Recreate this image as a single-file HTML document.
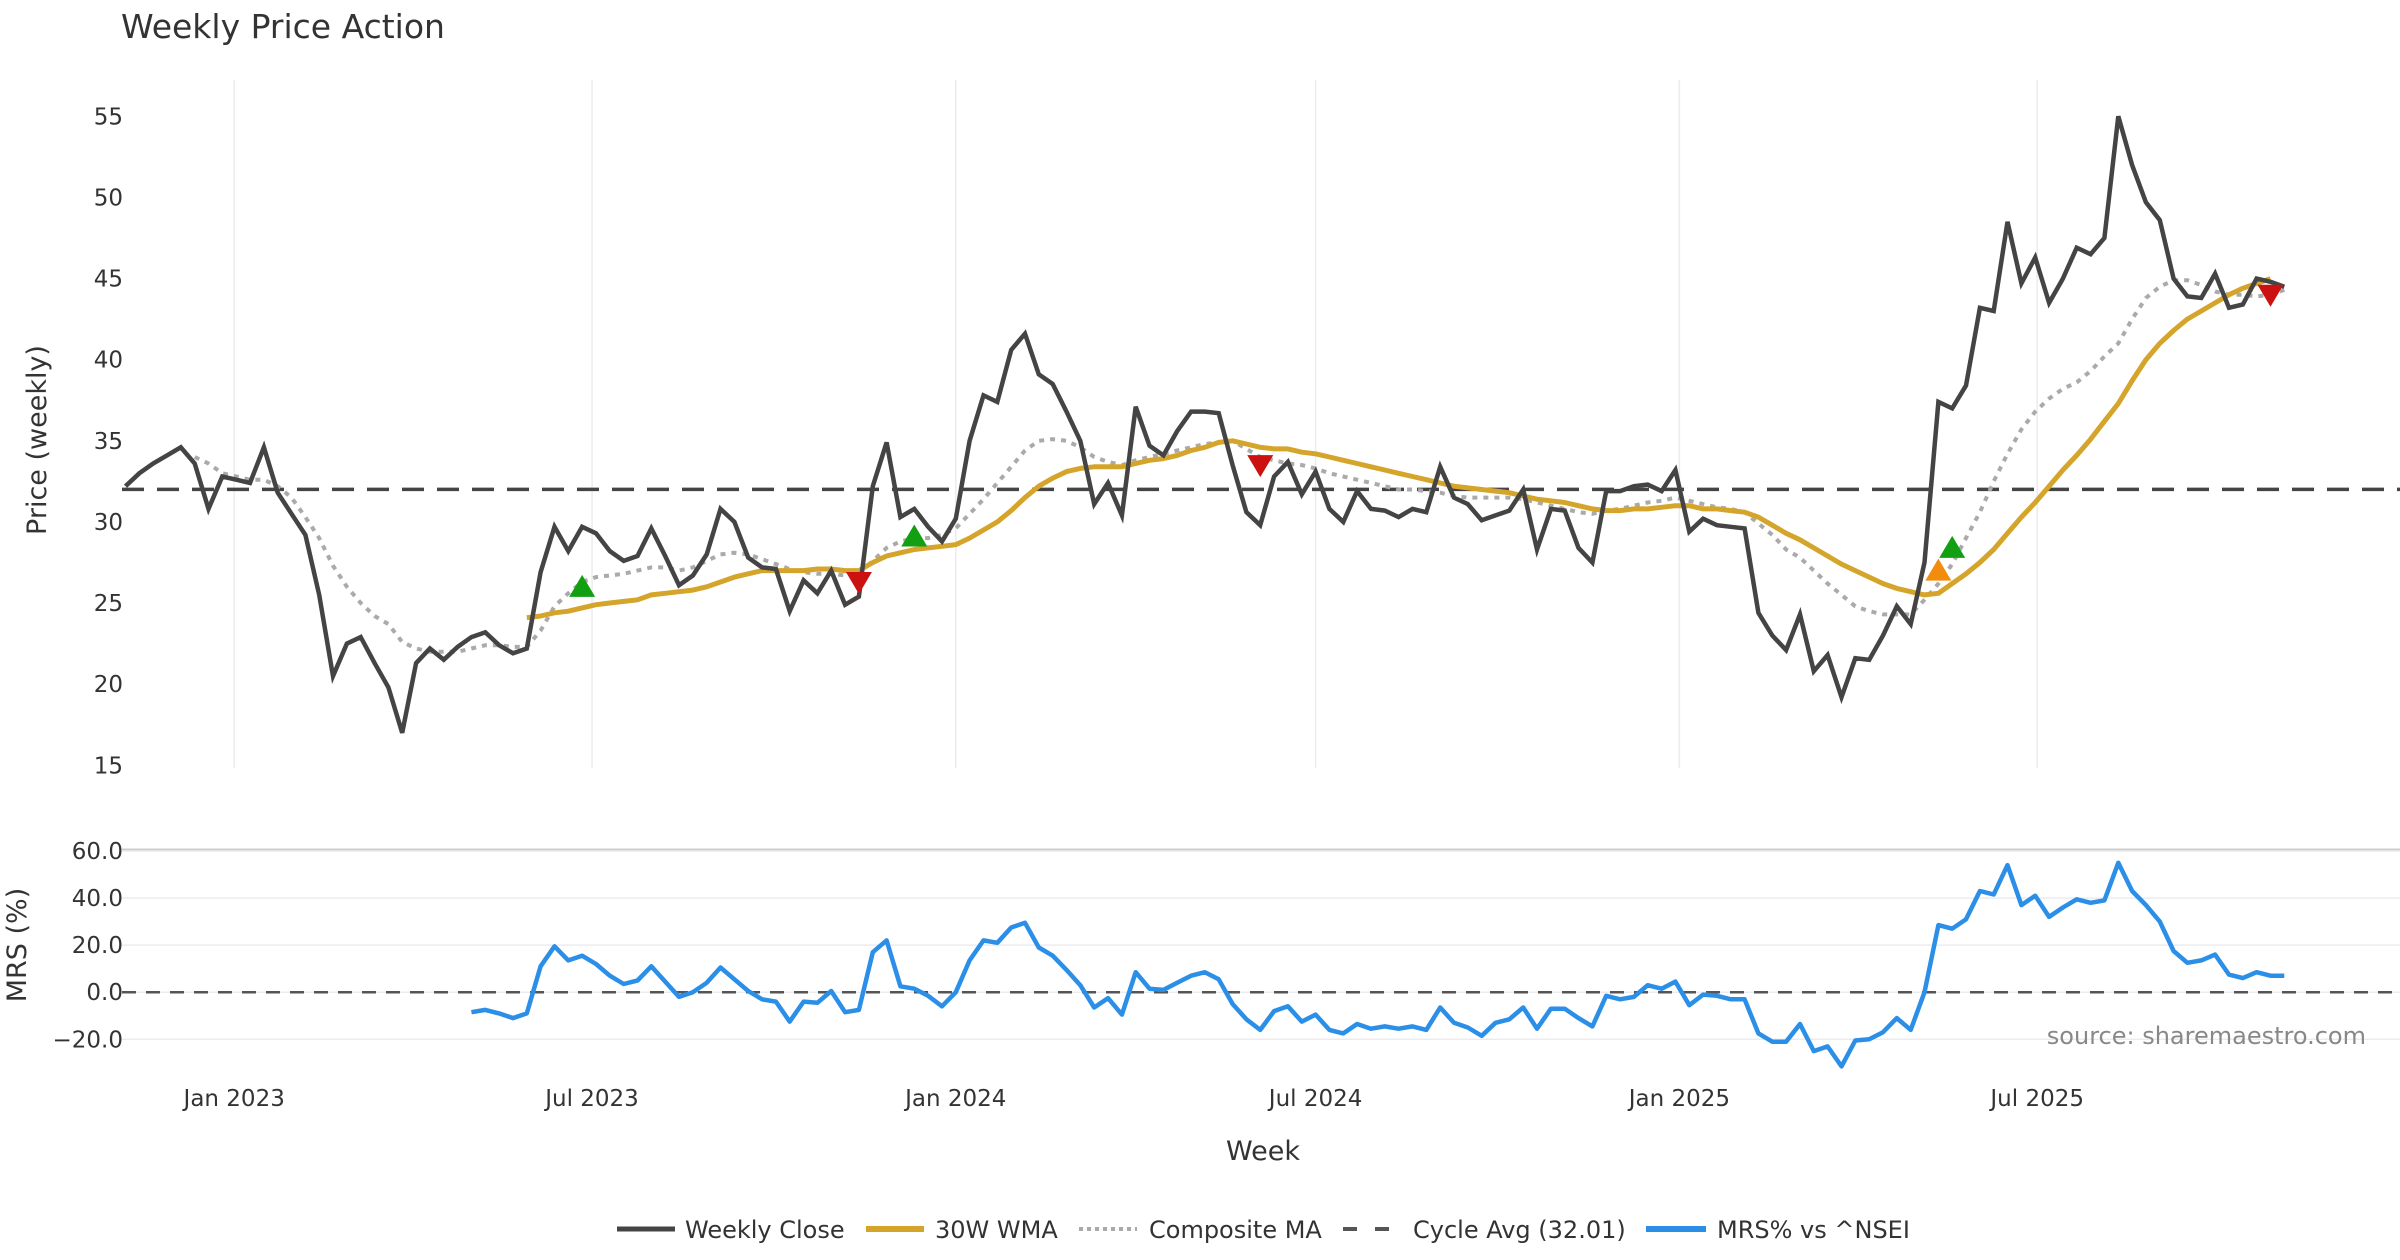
<!DOCTYPE html>
<html><head><meta charset="utf-8">
<style>
html,body{margin:0;padding:0;background:#fff;}
svg{display:block;font-family:"DejaVu Sans","Liberation Sans",sans-serif;}
</style></head>
<body>
<svg id="chart" width="2400" height="1260" viewBox="0 0 2400 1260" xmlns="http://www.w3.org/2000/svg">
<text x="121" y="38" font-size="33" fill="#333">Weekly Price Action</text>
<g id="grid"></g>
<g id="series"></g>
<g id="axes"></g>
<text x="46" y="440" font-size="27" fill="#333" text-anchor="middle" transform="rotate(-90 46 440)">Price (weekly)</text>
<text x="26" y="945" font-size="27" fill="#333" text-anchor="middle" transform="rotate(-90 26 945)">MRS (%)</text>
<text x="1263" y="1160" font-size="27" fill="#333" text-anchor="middle">Week</text>
<text x="2366" y="1044" font-size="24" fill="#888" text-anchor="end">source: sharemaestro.com</text>
<g id="legend">
  <g><line x1="617" y1="1229" x2="675" y2="1229" stroke="#444" stroke-width="5"/><text x="685" y="1238" font-size="24" fill="#333">Weekly Close</text></g>
  <g><line x1="866" y1="1229" x2="924" y2="1229" stroke="#D4A52A" stroke-width="6"/><text x="935" y="1238" font-size="24" fill="#333">30W WMA</text></g>
  <g><line x1="1079" y1="1229" x2="1137" y2="1229" stroke="#aaa" stroke-width="4" stroke-dasharray="4,4"/><text x="1149" y="1238" font-size="24" fill="#333">Composite MA</text></g>
  <g><line x1="1343" y1="1229" x2="1398" y2="1229" stroke="#555" stroke-width="4" stroke-dasharray="14,18"/><text x="1413" y="1238" font-size="24" fill="#333">Cycle Avg (32.01)</text></g>
  <g><line x1="1646" y1="1229" x2="1706" y2="1229" stroke="#2B8FE8" stroke-width="6"/><text x="1717" y="1238" font-size="24" fill="#333">MRS% vs ^NSEI</text></g>
</g>
</svg>
<script>
const closeVals=[32.2,33.0,33.6,34.1,34.6,33.6,30.8,32.8,32.6,32.4,34.6,31.8,30.5,29.2,25.5,20.5,22.5,22.9,21.3,19.8,17.0,21.3,22.2,21.5,22.3,22.9,23.2,22.4,21.9,22.2,26.9,29.7,28.2,29.7,29.3,28.2,27.6,27.9,29.6,27.9,26.1,26.7,28.0,30.8,30.0,27.8,27.2,27.1,24.5,26.4,25.6,27.0,24.9,25.4,32.2,34.9,30.3,30.8,29.7,28.8,30.2,35.0,37.8,37.4,40.6,41.6,39.1,38.5,36.8,35.0,31.1,32.4,30.4,37.1,34.7,34.1,35.6,36.8,36.8,36.7,33.5,30.6,29.8,32.8,33.7,31.7,33.1,30.8,30.0,31.9,30.8,30.7,30.3,30.8,30.6,33.4,31.5,31.1,30.1,30.4,30.7,32.0,28.3,30.8,30.7,28.4,27.5,31.9,31.9,32.2,32.3,31.9,33.2,29.4,30.2,29.8,29.7,29.6,24.4,23.0,22.1,24.3,20.8,21.8,19.2,21.6,21.5,23.0,24.8,23.7,27.5,37.4,37.0,38.4,43.2,43.0,48.5,44.7,46.3,43.5,45.0,46.9,46.5,47.5,55.0,52.0,49.7,48.6,45.0,43.9,43.8,45.3,43.2,43.4,45.0,44.8,44.5];
const wmaVals=[null,null,null,null,null,null,null,null,null,null,null,null,null,null,null,null,null,null,null,null,null,null,null,null,null,null,null,null,null,24.1,24.2,24.4,24.5,24.7,24.9,25.0,25.1,25.2,25.5,25.6,25.7,25.8,26.0,26.3,26.6,26.8,27.0,27.0,27.0,27.0,27.1,27.1,27.0,27.0,27.5,27.9,28.1,28.3,28.4,28.5,28.6,29.0,29.5,30.0,30.7,31.5,32.2,32.7,33.1,33.3,33.4,33.4,33.4,33.6,33.8,33.9,34.1,34.4,34.6,34.9,35.0,34.8,34.6,34.5,34.5,34.3,34.2,34.0,33.8,33.6,33.4,33.2,33.0,32.8,32.6,32.4,32.2,32.1,32.0,31.9,31.8,31.6,31.4,31.3,31.2,31.0,30.8,30.7,30.7,30.8,30.8,30.9,31.0,31.0,30.8,30.8,30.7,30.6,30.3,29.8,29.3,28.9,28.4,27.9,27.4,27.0,26.6,26.2,25.9,25.7,25.5,25.6,26.2,26.8,27.5,28.3,29.3,30.3,31.2,32.2,33.2,34.1,35.1,36.2,37.3,38.7,40.0,41.0,41.8,42.5,43.0,43.5,44.0,44.4,44.7,45.0];
const compVals=[null,null,null,null,null,34.0,33.6,33.0,32.8,32.6,32.6,32.2,31.5,30.3,29.0,27.3,26.0,25.0,24.2,23.7,22.6,22.2,22.0,22.0,22.0,22.2,22.4,22.4,22.3,22.3,23.3,24.8,25.6,26.3,26.6,26.7,26.8,27.0,27.2,27.2,27.0,27.2,27.6,28.0,28.1,28.0,27.7,27.4,27.1,26.9,26.8,26.8,26.7,26.8,27.6,28.4,28.8,29.0,29.0,29.2,29.6,30.5,31.4,32.4,33.4,34.4,35.0,35.1,35.0,34.6,34.0,33.7,33.5,33.8,34.0,34.2,34.4,34.6,34.8,34.9,35.0,34.5,34.0,33.8,33.6,33.5,33.3,33.0,32.8,32.6,32.4,32.2,32.0,32.0,31.9,31.8,31.6,31.5,31.5,31.5,31.5,31.4,31.2,31.0,30.8,30.6,30.5,30.7,30.8,31.0,31.2,31.3,31.5,31.3,31.1,30.9,30.8,30.6,29.9,29.2,28.3,27.8,27.0,26.2,25.5,24.8,24.5,24.3,24.3,24.3,25.2,26.2,27.4,29.0,30.6,32.5,34.2,35.7,36.8,37.6,38.2,38.6,39.3,40.2,41.0,42.5,43.8,44.5,44.9,44.9,44.6,44.2,44.0,44.0,43.9,44.0,44.3];
const mrsVals=[null,null,null,null,null,null,null,null,null,null,null,null,null,null,null,null,null,null,null,null,null,null,null,null,null,-8.5,-7.5,-9,-11,-9,11,19.5,13.5,15.5,12,7,3.5,5,11,4.5,-2,0,4,10.5,5.5,0.5,-3,-4,-12.5,-4,-4.5,0.5,-8.5,-7.5,17,22,2.5,1.5,-1.5,-6,0,13.5,22,21,27.5,29.5,19,15.5,9.5,3,-6.5,-2.5,-9.5,8.5,1.5,1,4,7,8.5,5.5,-5,-11.5,-16,-8,-6,-12.5,-9.5,-16,-17.5,-13.5,-15.5,-14.5,-15.5,-14.5,-16,-6.5,-13,-15,-18.5,-13,-11.5,-6.5,-15.5,-7,-7,-11,-14.5,-1.5,-3,-2,3,1.5,4.5,-5.5,-1,-1.5,-3,-3,-17.5,-21,-21,-13.5,-25,-23,-31.5,-20.5,-20,-17,-11,-16,0,28.5,27,31,43,41.5,54,37,41,32,36,39.5,38,39,55,43,37,30,17.5,12.5,13.5,16,7.5,6,8.5,7,7];
const buyIdx=[33,57,132];
const buyPrice=[26.0,29.1,28.4];
const earlyIdx=[131];
const earlyPrice=[27.0];
const sellIdx=[53,82,155];
const sellPrice=[26.3,33.5,44.0];
const cycleAvg=32.01;
const priceTicks=[15,20,25,30,35,40,45,50,55];
const mrsTicks=[-20,0,20,40,60];
const mrsTickLabels=["−20.0","0.0","20.0","40.0","60.0"];
const dateTickLabels=["Jan 2023","Jul 2023","Jan 2024","Jul 2024","Jan 2025","Jul 2025"];
const dateTicks=["2023-01-01","2023-07-01","2024-01-01","2024-07-01","2025-01-01","2025-07-01"];
const startDate="2022-11-07";

const NS="http://www.w3.org/2000/svg";
const DAY=86400000;
const T0=Date.parse("2023-01-01"), T1=Date.parse("2025-07-01");
function xDate(ms){return 234.2+(ms-T0)/(T1-T0)*(2037.2-234.2);}
function xIdx(i){return xDate(Date.parse(startDate)+i*7*DAY);}
function yP(p){return 116.3+(55-p)*(765.3-116.3)/40;}
function yM(m){return 851+(60-m)*(1039.3-851)/80;}
function mk(tag,attrs,parent){const e=document.createElementNS(NS,tag);for(const k in attrs)e.setAttribute(k,attrs[k]);parent.appendChild(e);return e;}
const gridG=document.getElementById('grid'),serG=document.getElementById('series'),axesG=document.getElementById('axes');

dateTicks.forEach((d,k)=>{
  const x=xDate(Date.parse(d));
  const g=mk('line',{x1:x,x2:x,y1:80,y2:768,stroke:'#ececf0','stroke-width':1.5},gridG);
  
  
  const t=mk('text',{x:x,y:1106,'font-size':23,fill:'#333','text-anchor':'middle'},axesG);
  t.textContent=dateTickLabels[k];
  
  
});
priceTicks.forEach(p=>{
  const t=mk('text',{x:123,y:yP(p)+8,'font-size':23,fill:'#333','text-anchor':'end'},axesG);
  t.textContent=p;
  
  
});
const panelTop=mk('line',{x1:122,x2:2400,y1:849.5,y2:849.5,stroke:'#ccc','stroke-width':2},gridG);


mrsTicks.forEach((m,k)=>{
  const l=mk('line',{x1:122,x2:2400,y1:yM(m),y2:yM(m),stroke:'#ececf0','stroke-width':1.5},gridG);
  
  
  const t=mk('text',{x:123,y:yM(m)+8,'font-size':23,fill:'#333','text-anchor':'end'},axesG);
  t.textContent=mrsTickLabels[k];
  
  
});
const zeroLine=mk('line',{x1:122,x2:2400,y1:yM(0),y2:yM(0),stroke:'#555','stroke-width':2.5,'stroke-dasharray':'14,10'},gridG);


const cycleLine=mk('line',{x1:122,x2:2400,y1:yP(cycleAvg),y2:yP(cycleAvg),stroke:'#444','stroke-width':3.5,'stroke-dasharray':'22,13'},gridG);



function pathOf(vals,yf){let d='',pen=false;vals.forEach((v,i)=>{if(v==null){pen=false;return;}d+=(pen?'L':'M')+xIdx(i).toFixed(1)+' '+yf(v).toFixed(1);pen=true;});return d;}
const pc=mk('path',{d:pathOf(compVals,yP),fill:'none',stroke:'#aaa','stroke-width':4,'stroke-dasharray':'5,6'},serG);


const pw=mk('path',{d:pathOf(wmaVals,yP),fill:'none',stroke:'#D4A52A','stroke-width':5,'stroke-linejoin':'round'},serG);


const pcl=mk('path',{d:pathOf(closeVals,yP),fill:'none',stroke:'#444','stroke-width':4.5},serG);


const pm=mk('path',{d:pathOf(mrsVals,yM),fill:'none',stroke:'#2B8FE8','stroke-width':4.5,'stroke-linejoin':'round'},serG);



function tri(i,p,up,color,name){
  const x=xIdx(i),y=yP(p),s=13;
  const pts=up?`${x-s},${y+10} ${x+s},${y+10} ${x},${y-12}`:`${x-s},${y-10} ${x+s},${y-10} ${x},${y+12}`;
  const t=mk('polygon',{points:pts,fill:color},serG);
  
  
}
buyIdx.forEach((i,k)=>tri(i,buyPrice[k],true,'#12A012','buy-signal-marker'));
earlyIdx.forEach((i,k)=>tri(i,earlyPrice[k],true,'#F28C0C','early-signal-marker'));
sellIdx.forEach((i,k)=>tri(i,sellPrice[k],false,'#CC1111','sell-signal-marker'));
</script>
</body></html>
